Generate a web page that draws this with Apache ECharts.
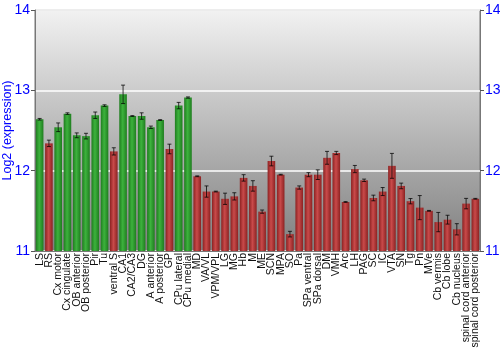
<!DOCTYPE html>
<html><head><meta charset="utf-8">
<script src="https://cdn.jsdelivr.net/npm/echarts@6/dist/echarts.min.js"></script>
<style>html,body{margin:0;padding:0;background:#fff}#c{width:500px;height:350px}</style>
</head><body><div id="c"></div>
<script>
const categories = ["LS","RS","Cx motor","Cx cingulate","OB anterior","OB posterior","Pir","Tu","ventral S","CA1","CA2/CA3","DG","A anterior","A posterior","GP","CPu lateral","CPu medial","MD","VA/VL","VPM/VPL","LG","MG","Hb","M","ME","SCN","MPA","SO","Pa","SPa ventral","SPa dorsal","DM","VMH","Arc","LH","PAG","SC","IC","VTA","SN","Tg","Pn","MVe","Cb vermis","Cb lobe","Cb nucleus","spinal cord anterior","spinal cord posterior"];
const values = [12.64,12.34,12.54,12.71,12.44,12.43,12.69,12.81,12.24,12.95,12.68,12.68,12.54,12.63,12.27,12.81,12.91,11.93,11.74,11.74,11.65,11.68,11.91,11.81,11.49,12.12,11.95,11.21,11.79,11.95,11.95,12.16,12.22,11.61,12.02,11.88,11.66,11.74,12.06,11.81,11.62,11.54,11.50,11.36,11.39,11.27,11.59,11.65];
const errors = [0.01,0.04,0.054,0.01,0.03,0.035,0.04,0.01,0.045,0.115,0.005,0.04,0.015,0.005,0.06,0.04,0.008,0.005,0.07,0.005,0.07,0.045,0.04,0.065,0.02,0.06,0.005,0.035,0.02,0.025,0.06,0.08,0.02,0.005,0.045,0.015,0.035,0.05,0.155,0.035,0.033,0.15,0.005,0.12,0.055,0.07,0.065,0.005];
const groups = ["g","r","g","g","g","g","g","g","r","g","g","g","g","g","r","g","g","r","r","r","r","r","r","r","r","r","r","r","r","r","r","r","r","r","r","r","r","r","r","r","r","r","r","r","r","r","r","r"];
const yTicks = [11,12,13,14];

function grad(edge, mid){
  return new echarts.graphic.LinearGradient(0,0,1,0,[
    {offset:0,color:edge},{offset:0.45,color:mid},{offset:1,color:edge}]);
}
const greenFill = grad('#1f7d1f','#3db23d');
const redFill = grad('#8c2222','#c94a4a');
const FONT = 'Liberation Sans, Arial, sans-serif';

const chart = echarts.init(document.getElementById('c'), null, {renderer:'canvas'});
const axisLabelStyle = {color:'#0000ff', fontSize:14, fontFamily:FONT};
chart.setOption({
  animation:false,
  grid:{left:35,right:20,top:10,bottom:99,containLabel:false,outerBoundsMode:'none',
    show:true,borderColor:'#777',borderWidth:1,
    backgroundColor:new echarts.graphic.LinearGradient(0,0,0,1,[{offset:0,color:'#f2f2f2'},{offset:1,color:'#7f7f7f'}])},
  xAxis:{type:'category',data:categories,
    axisLine:{show:true,lineStyle:{color:'#777'}},axisTick:{show:false},
    axisLabel:{rotate:90,interval:0,fontSize:10.5,color:'#111',margin:2,fontFamily:FONT}},
  yAxis:[
    {type:'value',min:yTicks[0],max:yTicks[yTicks.length-1],interval:1,position:'left',
     name:'Log2 (expression)',nameLocation:'middle',nameGap:21,nameRotate:90,nameMoveOverlap:false,
     nameTextStyle:{color:'#0000ff',fontSize:12.5,fontFamily:FONT},
     axisLine:{show:true,lineStyle:{color:'#777'}},axisTick:{show:true,length:4,lineStyle:{color:'#555'}},
     axisLabel:Object.assign({margin:5},axisLabelStyle),
     splitLine:{show:true,lineStyle:{color:'#ffffff',width:1.5}}},
    {type:'value',min:yTicks[0],max:yTicks[yTicks.length-1],interval:1,position:'right',
     axisLine:{show:true,lineStyle:{color:'#777'}},axisTick:{show:true,length:4,lineStyle:{color:'#555'}},
     axisLabel:Object.assign({margin:5},axisLabelStyle),splitLine:{show:false}}
  ],
  series:[
    {type:'bar',barWidth:'82%',
     data:values.map((v,i)=>({value:v,itemStyle:{color:groups[i]==='g'?greenFill:redFill}}))},
    {type:'custom',
     data:values.map((v,i)=>[i,v-errors[i],v+errors[i]]),
     renderItem:function(params,api){
       const lo=api.coord([api.value(0),api.value(1)]);
       const hi=api.coord([api.value(0),api.value(2)]);
       const x=lo[0], w=2;
       const st={stroke:'rgba(0,0,0,0.75)',lineWidth:1};
       return {type:'group',children:[
         {type:'line',shape:{x1:x,y1:hi[1],x2:x,y2:lo[1]},style:st},
         {type:'line',shape:{x1:x-w,y1:hi[1],x2:x+w,y2:hi[1]},style:st},
         {type:'line',shape:{x1:x-w,y1:lo[1],x2:x+w,y2:lo[1]},style:st}
       ]};
     },z:5}
  ]
});
</script></body></html>
